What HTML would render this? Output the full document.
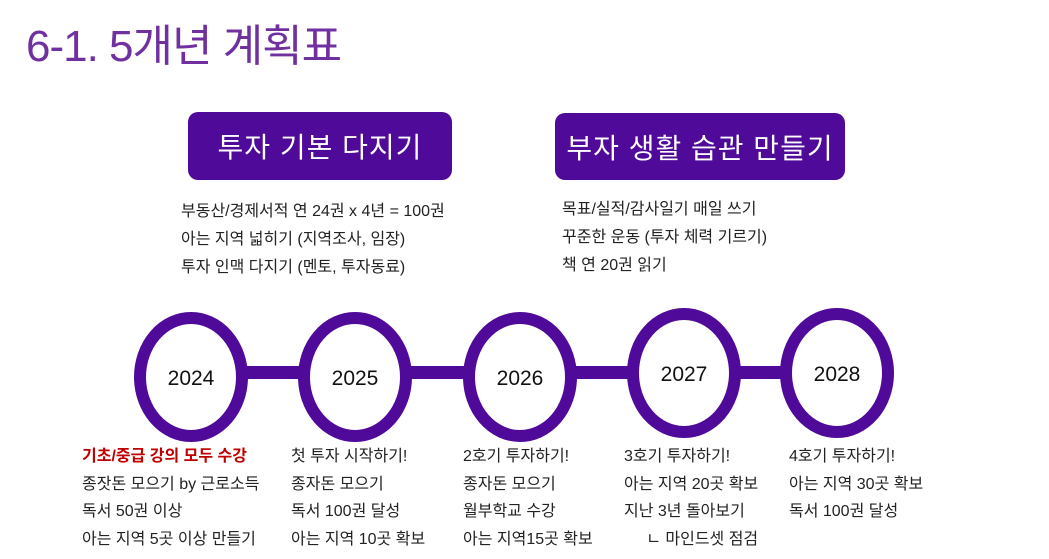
<!DOCTYPE html>
<html><head><meta charset="utf-8"><style>
body{margin:0;width:1049px;height:559px;background:#fff;position:relative;overflow:hidden;font-family:"Liberation Sans","Noto Sans CJK KR",sans-serif}
.t{position:absolute;white-space:nowrap}
.title{left:26px;top:10px;font-size:44px;color:#7030a0;letter-spacing:-1px}
.box{position:absolute;background:#4f0a99;border-radius:10px;color:#fff;font-size:28px;display:flex;align-items:center;justify-content:center;letter-spacing:1px}
.l{font-size:16px;color:#222;line-height:28px}
.c{font-size:16px;color:#222;line-height:27.5px}
</style></head><body>
<div class="t title">6-1. 5개년 계획표</div>
<div class="box" style="left:188px;top:112px;width:264px;height:68px">투자 기본 다지기</div>
<div class="box" style="left:555px;top:113px;width:290px;height:67px">부자 생활 습관 만들기</div>
<div class="t l" style="left:181px;top:198px">부동산/경제서적 연 24권 x 4년 = 100권<br>아는 지역 넓히기 (지역조사, 임장)<br>투자 인맥 다지기 (멘토, 투자동료)</div>
<div class="t l" style="left:562px;top:196px">목표/실적/감사일기 매일 쓰기<br>꾸준한 운동 (투자 체력 기르기)<br>책 연 20권 읽기</div>
<svg style="position:absolute;left:0;top:0" width="1049" height="559">
<rect x="230" y="366" width="580" height="13" fill="#4f0a99"/>
<g fill="#fff" stroke="#4f0a99" stroke-width="12">
<ellipse cx="191" cy="377" rx="51" ry="59"/>
<ellipse cx="355" cy="377" rx="51" ry="59"/>
<ellipse cx="520" cy="377" rx="51" ry="59"/>
<ellipse cx="684" cy="373" rx="51" ry="59"/>
<ellipse cx="837" cy="373" rx="51" ry="59"/>
</g>
<g font-family="Liberation Sans, sans-serif" font-size="21" text-anchor="middle" fill="#111">
<text x="191" y="385">2024</text><text x="355" y="385">2025</text><text x="520" y="385">2026</text><text x="684" y="381">2027</text><text x="837" y="381">2028</text>
</g></svg>
<div class="t c" style="left:82px;top:443px"><span style="color:#c00000;font-weight:bold">기초/중급 강의 모두 수강</span><br>종잣돈 모으기 by 근로소득<br>독서 50권 이상<br>아는 지역 5곳 이상 만들기</div>
<div class="t c" style="left:291px;top:443px">첫 투자 시작하기!<br>종자돈 모으기<br>독서 100권 달성<br>아는 지역 10곳 확보</div>
<div class="t c" style="left:463px;top:443px">2호기 투자하기!<br>종자돈 모으기<br>월부학교 수강<br>아는 지역15곳 확보</div>
<div class="t c" style="left:624px;top:443px">3호기 투자하기!<br>아는 지역 20곳 확보<br>지난 3년 돌아보기<br>&nbsp;&nbsp;&nbsp;&nbsp;&nbsp;ㄴ 마인드셋 점검</div>
<div class="t c" style="left:789px;top:443px">4호기 투자하기!<br>아는 지역 30곳 확보<br>독서 100권 달성</div>
</body></html>
